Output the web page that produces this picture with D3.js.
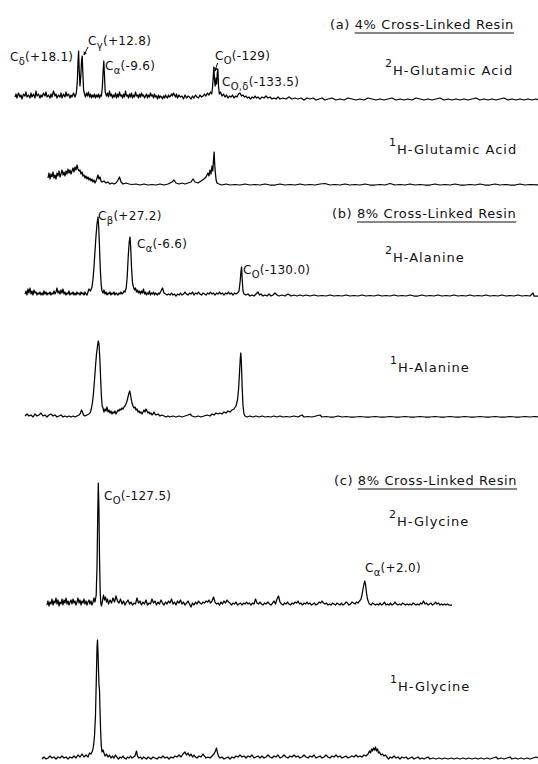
<!DOCTYPE html>
<html>
<head>
<meta charset="utf-8">
<script src="https://cdn.jsdelivr.net/npm/d3@7"></script>
<style>
  body { margin: 0; background: #fff; }
  text { font-family: "DejaVu Sans", sans-serif; fill: #111; }
</style>
</head>
<body>
<svg id="fig" width="538" height="764"></svg>
<script>
// spectra: [position, intensity above baseline]
const glu2H = [[15,3],[16,6],[17,2],[18.5,7],[20,3],[21,5],[22,1],[23.5,6],[25,4],[26,8],[27,3],[28.5,5],[30,2],[31,7],[32,3],[33.5,6],[35,2],[36,9],[37,4],[38.5,6],[40,2],[41,5],[42,3],[43.5,7],[45,4],[46,8],[47,3],[48.5,5],[50,2],[51,6],[52,3],[53.5,9],[55,4],[56,6],[57,2],[58.5,5],[60,3],[61,7],[62,2],[63.5,6],[65,3],[66,8],[67,4],[68.5,6],[70,2],[71,5],[72,3],[73.5,7],[75,3],[76.3,7],
  [77.3,18],[78,38],[78.6,49],[79.2,30],[80,14],[80.8,24],[81.6,40],[82.2,44],[82.8,28],[83.6,10],[84.5,6],[85.5,3],[86.5,7],[87.5,4],[88.5,8],[89.5,3],[90.5,6],[91.5,2],[92.5,5],[93.5,3],[94.5,6],[95.5,2],[96.5,5],[97.5,3],[98.5,6],[99.5,2],[100.5,5],[101.4,4],
  [102.3,12],[103.2,30],[103.8,39],[104.4,26],[105.2,8],[106.5,4],[107.5,7],[108.5,3],[109.5,9],[110.5,4],[111.5,6],[112.5,2],[113.5,5],[114.5,3],[115.5,7],[116.5,2],[117.5,6],[118.5,3],[119.5,8],[120.5,4],[121.5,5],[122.5,2],[123.5,6],[124.5,3],[125.5,9],[126.5,4],[127.5,5],[128.5,2],[129.5,6],[130.5,3],[131.5,7],[132.5,2],[133.5,5],[134.5,3],[135.5,8],[136.5,4],[137.5,5],[138.5,2],[139.5,6],[140.5,3],[141.5,7],[142.5,4],[143.5,5],[144.5,2],[145.5,4],[146.5,6],[147.5,2],[148.5,5],[149.5,3],[150.5,7],[151.5,4],[152.5,5],[153.5,2],[154.5,6],[155.5,3],[156.5,4],[157.5,1],[158.5,5],[159.5,2],[160.5,4],[161.5,3],[162.5,1],[163.5,4],[164.5,2],[165.5,5],[166.5,3],[167.5,2],[168.5,5],[169.5,3],[170.5,4],[171.5,6],[172.5,4],[173.5,7],[174.5,5],[175.5,3],[176.5,6],[177.5,2],[179,5],[180.5,3],[182,4],[183.5,1],[185,5],[186.5,2],[188,4],[189.5,3],[191,1],[192.5,4],[194,2],[195.5,5],[197,3],[198.5,2],[200,5],[201.5,3],[203,4],[204.5,6],[206,4],[207.5,7],[209,5],[210.5,8],[211.7,6],
  [212.5,12],[213.3,24],[213.9,33],[214.5,20],[215.2,14],[216,22],[216.6,16],[217.3,27],[217.9,31],[218.5,14],[219.3,6],[220.5,8],[222,4],[223.5,6],[225,3],[226.5,5],[228,2],[229.5,4],[231,3],[232.5,5],[234,2],[235.5,4],[237,3],[238.5,6],[240,7],[241.5,4],[243,5],[244.5,3],[246,4],[247.5,2],[249,3],[250.5,1],[252,3],[253.5,2],[255,4],[256.5,2],[258,3],[260,1],[262,3],[264,2],[266,4],[268,2],[270,3],[272,1],[274,2],[276,1],[278,3],[280,1],[283,2],[286,1],[289,3],[292,1],[295,2],[298,1],[301,2],[304,0],[307,2],[310,1],[313,2],[316,0],[319,1],[322,2],[325,0],[328,1],[332,2],[336,0],[340,1],[344,0],[348,2],[352,1],[356,0],[360,1],[364,0],[368,2],[372,1],[376,0],[380,1],[384,0],[388,1],[392,2],[396,0],[400,1],[404,0],[408,1],[412,0],[416,2],[420,1],[424,0],[428,1],[432,0],[436,1],[440,2],[444,0],[448,1],[452,0],[456,1],[460,0],[464,1],[468,0],[472,1],[476,2],[480,0],[484,1],[488,0],[492,1],[496,0],[500,1],[504,2],[508,0],[512,1],[516,0],[520,1],[524,0],[528,1],[532,0],[536,1],[538,0]];

const glu1H = [[48,8],[49,13],[50,7],[51,12],[52,9],[53,14],[54,8],[55,11],[56,7],[57,13],[58,10],[59,15],[60,9],[61,12],[62,16],[63,11],[64,14],[65,10],[66,15],[67,12],[68,17],[69,13],[70,16],[71,12],[72,15],[73,18],[74,14],[75,19],[76,16],[77,21],[78,17],[79,15],[80,16],[81,12],[82,14],[83,10],[84,11],[85,8],[86,10],[87,7],[88,9],[89,6],[90,8],[91,5],[92,7],[93,4],[94,6],[95,3],[96,5],[97,8],[98,11],[99,7],[100,9],[101,5],[102,4],[104,5],[106,3],[108,4],[110,2],[112,3],[114,2],[116,3],[118,6],[119.5,9],[121,4],[123,2],[126,3],[129,2],[132,1.5],[136,2],[140,1],[144,2],[148,1],[152,1.5],[156,1],[160,2],[164,1],[168,2],[172,4],[174,6],[176,3],[179,2],[182,3],[185,2],[188,3],[191,4],[193,7],[195,4],[198,3],[201,5],[204,7],[206,9],[208,13],[209,10],[210,16],[211,12],[212,20],[212.8,15],[213.5,26],[214.1,34],[214.7,22],[215.3,14],[216.1,6],[217,3],[219,2],[222,1],[226,2],[230,1],[235,1.5],[240,1],[245,2],[250,1],[255,1.5],[260,1],[265,2],[270,1],[275,1],[280,2],[285,1],[290,1.5],[295,1],[300,2],[305,1],[310,1.5],[315,1],[320,2],[325,2.5],[330,1],[335,1.5],[340,1],[345,2],[350,1],[355,1.5],[360,1],[365,2],[370,1],[375,1],[380,1.5],[385,1],[390,2.5],[395,1],[400,1.5],[405,1],[410,2],[415,1],[420,1.5],[425,1],[430,1],[435,2],[440,1],[445,1.5],[450,1],[455,2],[460,1],[465,1],[470,1.5],[475,1],[480,2],[485,1],[490,1],[495,2],[500,1],[505,1.5],[510,1],[515,1],[520,2],[525,1],[530,1.5],[538,1]];

const ala2H = [[25,3],[26,6],[27,2],[28,8],[29,4],[30,9],[31,3],[32,6],[33,2],[34,7],[35,4],[36,5],[37,2],[38,4],[39,3],[40,5],[41,2],[42,4],[43,2],[44,6],[45,3],[46,5],[47,2],[48,4],[49,3],[50,5],[51,2],[52,4],[53,3],[54,6],[55,3],[56,5],[57,9],[58,4],[59,6],[60,3],[61,7],[62,4],[63,8],[64,3],[65,5],[66,2],[67,4],[68,3],[69,6],[70,2],[71,4],[72,3],[73,5],[74,2],[75,4],[76,2],[77,5],[78,3],[79,4],[80,2],[81,5],[82,3],[83,4],[84,2],[85,5],[86,3],[87,2],[88,5],[89,8],[90.5,6],
  [92,10],[93,18],[94,30],[95,46],[96,61],[97,73],[98,80],[98.7,70],[99.5,50],[100.3,28],[101.2,12],[102,6],[103,4],[104,7],[105,3],[106,5],[107,2],[108,4],[109,3],[110,5],[111,2],[112,4],[113,3],[114,5],[115,2],[116,4],[117,3],[118,2],[119,4],[120,3],[121,5],[122,3],[123,4],[124,6],[125,5],
  [126.2,9],[127.2,20],[128.2,40],[129.2,55],[130,60],[130.7,50],[131.5,30],[132.5,14],[133.5,10],[134.5,7],[135.5,9],[136.5,5],[137.5,7],[138.5,4],[139.5,6],[140.5,3],[141.5,6],[142.5,4],[143.5,8],[144.5,3],[145.5,5],[146.5,2],[147.5,4],[148.5,3],[149.5,6],[150.5,2],[151.5,4],[152.5,3],[153.5,5],[154.5,2],[155.5,4],[156.5,3],[157.5,2],[158.5,4],[159.5,3],[161,6],[162.5,9],[164,4],[165.5,3],[167,2],[168.5,3],[170,2],[171.5,4],[173,2],[174.5,3],[176,1],[177.5,3],[179,2],[180.5,4],[182,2],[183.5,3],[185,5],[186.5,3],[188,2],[189.5,4],[191,3],[192.5,5],[194,2],[195.5,4],[197,3],[198.5,5],[200,3],[201.5,2],[203,4],[204.5,3],[206,2],[207.5,4],[209,3],[210.5,5],[212,3],[213.5,4],[215,2],[216.5,4],[218,3],[219.5,5],[221,3],[222.5,4],[224,2],[225.5,4],[227,3],[228.5,5],[230,3],[231.5,4],[233,2],[234.5,4],[236,3],[237.5,4],
  [239,6],[240.2,16],[241,26],[241.6,30],[242.2,18],[243,6],[244,3],[246,2],[248,3],[250,1],[252,2],[254,1],[256,3],[258,5],[259.5,2],[261,3],[263,1],[265,2],[267,1],[269,3],[271,1],[273,2],[275,4],[277,2],[279,1],[282,2],[285,1],[288,3],[291,1],[294,2],[297,1],[300,2],[303,1],[306,2],[310,1],[314,2],[318,1],[322,1.5],[326,1],[330,2],[334,1],[338,1.5],[342,1],[346,2],[350,1],[354,1.5],[358,1],[362,2],[366,1],[370,1.5],[374,1],[378,2],[382,1],[386,1.5],[390,1],[394,2],[398,1],[402,1.5],[406,1],[410,2],[414,1],[418,1],[422,2],[426,1],[430,1.5],[434,1],[438,2],[442,1],[446,1.5],[450,1],[454,2],[458,1],[462,1.5],[466,1],[470,2],[474,1],[478,1.5],[482,1],[486,2],[490,1],[494,1.5],[498,1],[502,2],[506,1],[510,1.5],[514,1],[518,2],[522,1],[526,1.5],[530,1],[533,4],[534,1],[538,1]];

const ala1H = [[25,2],[27,4],[29,2],[31,3],[33,1],[35,4],[37,2],[39,3],[41,5],[43,2],[45,3],[47,1],[49,3],[51,4],[53,2],[55,3],[57,1],[59,2],[61,3],[63,1],[65,2],[67,1],[69,2],[71,1],[73,2],[75,1],[77,2],[79,3],[80.5,5],[81.5,8],[82.5,6],[83.5,3],[85,2],[87,3],[89,4],[90.5,6],
  [91.5,10],[92.5,16],[93.5,25],[94.5,38],[95.5,52],[96.5,64],[97.5,72],[98.3,77],[99,74],[99.8,60],[100.6,40],[101.4,22],[102.2,12],[103,10],[104,6],[105,9],[106,7],[107,11],[108,6],[109,8],[110,5],[111,7],[112,4],[113,6],[114,5],[115,7],[116,4],[117,6],
  [118,8],[119,7],[120,9],[121,8],[122,10],[123,9],[124,11],[125,12],[126,14],[127,17],[128,21],[129,25],[129.7,27],[130.4,24],[131.2,19],[132,15],[133,12],[134,10],[135,11],[136,8],[137,9],[138,6],[139,7],[140,5],[141,6],[142,4],[143,6],[144,8],[145,6],[146,9],[147,7],[148,5],[149,6],[150,4],[151,5],[152,3],[153,4],[154,6],[155,4],[156,3],[158,4],[160,2],[162,3],[164,2],[166,1],[168,2],[170,1],[173,2],[176,1],[179,2],[182,1],[185,2],[188,3],[190,4],[192,2],[195,1],[198,2],[201,1],[204,2],[207,3],[210,2],[212,4],[214,3],[216,5],[218,4],[220,5],[222,4],[224,6],[226,5],[228,7],[230,6],[232,8],[234,9],[236,12],
  [237.5,18],[238.5,28],[239.5,45],[240.3,60],[240.8,65],[241.4,55],[242.2,30],[243,12],[244,4],[245,2],[247,1],[250,2],[253,1],[256,2],[259,1],[262,2],[265,1],[268,1.5],[271,1],[274,2],[277,1],[280,2],[283,1],[286,1.5],[290,1],[294,2],[298,1],[302,3],[304,1],[308,1.5],[312,1],[316,2],[320,3],[322,1],[326,1.5],[330,1],[334,1],[338,2],[342,1],[346,1.5],[350,1],[355,1],[360,1.5],[365,1],[370,1],[375,1.5],[380,1],[385,1],[390,1.5],[395,1],[400,1],[405,1.5],[410,1],[415,1],[420,1.5],[425,1],[430,1],[435,1.5],[440,1],[445,1],[450,1.5],[455,1],[460,1],[465,1.5],[470,1],[475,1],[480,1.5],[485,1],[490,1],[495,1.5],[500,1],[505,1],[510,1.5],[515,1],[520,1],[525,1.5],[530,1],[535,1.5],[538,1]];

const gly2H = [[47,2],[48,6],[49,1],[50,5],[51,3],[52,8],[53,2],[54,6],[55,4],[56,9],[57,3],[58,7],[59,1],[60,5],[61,3],[62,8],[63,2],[64,7],[65,4],[66,9],[67,3],[68,6],[69,2],[70,5],[71,7],[72,3],[73,8],[74,4],[75,6],[76,2],[77,5],[78,9],[79,4],[80,7],[81,2],[82,6],[83,4],[84,8],[85,3],[86,6],[87,2],[88,5],[89,7],[90,3],[91,6],[92,2],[93,5],[94,9],[95,5],
  [96.2,12],[97,40],[97.7,90],[98.3,124],[98.9,100],[99.5,50],[100.2,15],[100.8,4],[101.5,1],[102.5,6],[103.5,12],[104.5,7],[105.5,10],[106.5,5],[107.5,8],[108.5,3],[110,7],[111.5,4],[113,9],[114.5,5],[116,11],[117.5,6],[119,4],[120.5,8],[122,3],[123.5,6],[125,2],[126.5,5],[128,7],[129.5,3],[131,5],[132.5,2],[134,4],[135.5,3],[137,9],[138.5,4],[140,6],[141.5,2],[143,5],[144.5,3],[146,7],[147.5,2],[149,4],[150.5,3],[152,8],[153.5,4],[155,6],[156.5,2],[158,5],[159.5,3],[161,7],[162.5,4],[164,2],[165.5,5],[167,3],[168.5,6],[170,4],[171.5,8],[173,3],[174.5,5],[176,2],[177.5,6],[179,4],[180.5,7],[182,3],[183.5,5],[185,2],[186.5,4],[188,6],[189.5,3],[191,0],[192.5,4],[194,2],[195.5,5],[197,3],[198.5,6],[200,4],[201.5,3],[203,5],[204.5,4],[206,6],[207.5,5],[209,7],[210.5,4],[212,6],[213.5,10],[215,5],[216.5,3],[218,4],[219.5,2],[221,5],[222.5,3],[224,6],[225.5,4],[227,7],[228.5,5],[230,4],[231.5,2],[233,4],[234.5,3],[236,5],[237.5,2],[239,3],[240.5,4],[242,2],[243.5,4],[245,3],[246.5,5],[248,3],[249.5,4],[251,2],[252.5,4],[254,3],[255.5,8],[257,4],[258.5,3],[260,5],[261.5,3],[263,2],[264.5,4],[266,3],[268,5],[269.5,3],[271,2],[272.5,4],[274,6],[275.5,3],[277,8],[278.5,11],[280,5],[281.5,3],[283,2],[284.5,4],[286,3],[287.5,5],[289,3],[290.5,2],[292,4],[293.5,3],[295,5],[296.5,4],[298,6],[299.5,3],[301,4],[302.5,2],[304,4],[305.5,3],[307,5],[308.5,3],[310,4],[311.5,2],[313,3],[314.5,4],[316,2],[317.5,3],[319,5],[320.5,4],[322,6],[323.5,4],[325,3],[326.5,4],[328,2],[329.5,3],[331,2],[332.5,4],[334,3],[335.5,2],[337,4],[338.5,3],[340,2],[341.5,4],[343,2],[344.5,3],[346,5],[347.5,4],[349,2],[350.5,3],[352,5],[353.5,4],[355,3],[356.5,5],[358,4],[359.5,6],
  [361,8],[362,12],[363,18],[364,23],[364.8,26],[365.6,22],[366.5,14],[367.5,8],[368.5,5],[369.5,3],[371,2],[372.5,4],[374,3],[375.5,2],[377,3],[378.5,2],[380,4],[381.5,2],[383,3],[384.5,5],[386,2],[387.5,3],[389,2],[390.5,4],[392,2],[393.5,3],[395,5],[396.5,3],[398,2],[399.5,3],[401,2],[402.5,4],[404,3],[405.5,2],[407,3],[408.5,2],[410,3],[411.5,2],[413,4],[414.5,3],[416,2],[417.5,3],[419,2],[420.5,4],[422,3],[423.5,6],[425,3],[426.5,4],[428,2],[429.5,3],[431,4],[432.5,2],[434,3],[435.5,5],[437,3],[438.5,4],[440,2],[441.5,3],[443,2],[444.5,3],[446,2],[447.5,3],[449,2],[450.5,2],[452,2]];

const gly1H = [[42,1],[44,3],[46,1],[48,2],[50,4],[52,2],[54,3],[56,1],[58,3],[60,2],[62,4],[64,2],[66,3],[68,1],[70,3],[72,2],[74,4],[76,2],[78,5],[80,3],[82,6],[84,3],[86,5],[88,3],[89.5,7],[91,6],[92.5,9],
  [93.5,14],[94.5,24],[95.5,45],[96.3,80],[97,112],[97.5,120],[98,108],[98.5,90],[99,75],[99.5,70],[100,50],[100.6,30],[101.3,14],[102,8],[103,10],[104,7],[105,4],[106.5,6],[108,3],[109.5,5],[111,2],[112.5,4],[114,2],[115.5,5],[117,3],[118.5,1],[120,3],[121.5,2],[123,4],[124.5,2],[126,1],[127.5,3],[129,2],[130.5,4],[132,2],[133.5,3],[135,4],[136.5,9],[137.5,4],[139,2],[140.5,3],[142,1],[143.5,3],[145,2],[146.5,1],[148,3],[149.5,2],[151,1],[153,3],[155,2],[157,1],[159,3],[161,2],[163,4],[165,2],[167,3],[169,1],[171,3],[173,2],[175,4],[177,3],[179,5],[181,3],[183,6],[185,8],[186.5,5],[188,7],[189.5,4],[191,6],[192.5,3],[194,5],[195.5,3],[197,2],[199,4],[201,3],[203,6],[204.5,4],[206,2],[208,3],[210,2],[212,4],[214,6],[215.5,9],[216.5,12],[217.5,7],[218.5,4],[220,2],[222,3],[224,1],[226,2],[228,3],[230,1],[232,3],[234,2],[236,4],[238,3],[240,5],[242,3],[244,4],[246,2],[248,4],[250,3],[252,5],[254,2],[256,3],[258,4],[260,2],[262,4],[264,2],[266,3],[268,5],[270,3],[272,2],[274,4],[276,3],[278,5],[280,2],[282,3],[284,5],[286,3],[288,2],[290,4],[292,3],[294,5],[296,3],[298,4],[300,2],[302,3],[304,5],[306,3],[308,2],[310,4],[312,3],[314,5],[316,2],[318,3],[320,4],[322,2],[324,3],[326,5],[328,3],[330,2],[332,4],[334,3],[336,5],[338,3],[340,4],[342,2],[344,3],[346,4],[348,2],[350,3],[352,4],[354,3],[356,5],[358,3],[360,4],[362,3],[364,5],[366,4],[368,6],
  [369.5,9],[370.5,7],[371.5,11],[372.5,9],[373.5,12],[374.5,10],[375.5,13],[376.5,9],[377.5,11],[378.5,7],[379.5,8],[381,5],[382.5,6],[384,4],[385.5,5],[387,3],[388.5,1],[390,3],[392,2],[394,4],[396,2],[398,3],[400,1],[402,3],[404,2],[406,3],[408,1],[410,2],[412,3],[414,1],[416,2],[418,3],[420,1],[422,2],[424,1],[426,2],[428,3],[430,1],[433,2],[436,1],[439,2],[442,1],[445,2],[448,1],[451,2],[454,1],[457,2],[460,1],[463,2],[466,1],[469,2],[472,1],[475,2],[478,1],[481,2],[484,1],[487,2],[490,1],[493,2],[496,3],[498,1],[501,2],[504,1],[507,2],[510,3],[512,1],[515,2],[518,1],[521,2],[524,1],[527,2],[530,1],[533,2],[536,3],[538,2]];

// text
const isotopes = ["2", "1", "2", "1", "2", "1"];
const compounds = ["Glutamic Acid", "Glutamic Acid", "Alanine", "Alanine", "Glycine", "Glycine"];
const panelTags = ["(a)", "(b)", "(c)"];
const resins = ["4% Cross-Linked Resin", "8% Cross-Linked Resin", "8% Cross-Linked Resin"];
// peak assignments: [atom subscript, shift]
const gluPeaks = [["\u03b4", "(+18.1)"], ["\u03b3", "(+12.8)"], ["\u03b1", "(-9.6)"], ["O", "(-129)"], ["O,\u03b4", "(-133.5)"]];
const alaPeaks = [["\u03b2", "(+27.2)"], ["\u03b1", "(-6.6)"], ["O", "(-130.0)"]];
const glyPeaks = [["O", "(-127.5)"], ["\u03b1", "(+2.0)"]];

const svg = d3.select("#fig");
const x = d3.scaleLinear().domain([0, 538]).range([0, 538]);

// baseline of each trace in the page
const traces = [
  { data: glu2H, base: 100 },
  { data: glu1H, base: 186 },
  { data: ala2H, base: 297 },
  { data: ala1H, base: 418 },
  { data: gly2H, base: 607 },
  { data: gly1H, base: 760 }
];

traces.forEach(t => {
  const y = d3.scaleLinear().domain([0, 100]).range([t.base, t.base - 100]);
  const line = d3.line().x(d => x(d[0])).y(d => y(d[1]));
  svg.append("path")
    .datum(t.data)
    .attr("d", line)
    .attr("fill", "none")
    .attr("stroke", "#000")
    .attr("stroke-width", 1.25)
    .attr("stroke-linejoin", "round");
});

// compound names with isotope superscript
const namePos = [[385, 75], [389, 154], [385, 262], [390, 372], [389, 526], [390, 691]];
compounds.forEach((c, i) => {
  const t = svg.append("text")
    .attr("x", namePos[i][0]).attr("y", namePos[i][1])
    .style("font-size", "13px").style("letter-spacing", "1px");
  t.append("tspan").text(isotopes[i]).attr("dy", -8).style("font-size", "11px");
  t.append("tspan").text("H-" + c).attr("dy", 8);
});

// panel headers, underlined resin name
const tagPos = [[330, 29], [332, 218], [334, 485]];
panelTags.forEach((tag, i) => {
  const t = svg.append("text")
    .attr("x", tagPos[i][0]).attr("y", tagPos[i][1])
    .style("font-size", "13px").style("letter-spacing", "0.6px");
  t.append("tspan").text(tag + " ");
  const u = t.append("tspan").text(resins[i]);
  const start = tagPos[i][0] + t.node().getSubStringLength(0, tag.length + 1);
  const len = u.node().getComputedTextLength();
  svg.append("line")
    .attr("x1", start).attr("x2", start + len)
    .attr("y1", tagPos[i][1] + 4).attr("y2", tagPos[i][1] + 4)
    .attr("stroke", "#111").attr("stroke-width", 1.1);
});

// peak labels: C, subscript atom, shift in ppm
function peakLabel(p, px, py) {
  const t = svg.append("text")
    .attr("x", px).attr("y", py)
    .style("font-size", "12px").style("letter-spacing", "0.3px");
  t.append("tspan").text("C");
  t.append("tspan").text(p[0]).attr("dy", 4).style("font-size", "10px");
  t.append("tspan").text(p[1]).attr("dy", -4);
}
const gluPos = [[10, 61], [88, 45], [105, 70], [215, 60], [222, 86]];
gluPeaks.forEach((p, i) => peakLabel(p, gluPos[i][0], gluPos[i][1]));
const alaPos = [[98, 220], [137, 248], [243, 274]];
alaPeaks.forEach((p, i) => peakLabel(p, alaPos[i][0], alaPos[i][1]));
const glyPos = [[104, 500], [365, 572]];
glyPeaks.forEach((p, i) => peakLabel(p, glyPos[i][0], glyPos[i][1]));

// short leader arrows to crowded peaks
svg.append("defs").append("marker")
  .attr("id", "ah").attr("viewBox", "0 0 6 6").attr("refX", 5).attr("refY", 3)
  .attr("markerWidth", 4).attr("markerHeight", 4).attr("orient", "auto")
  .append("path").attr("d", "M0,0L6,3L0,6z").attr("fill", "#111");
[[[88, 47], [84, 55]], [[217.5, 63], [215, 71]]].forEach(s => {
  svg.append("line")
    .attr("x1", s[0][0]).attr("y1", s[0][1]).attr("x2", s[1][0]).attr("y2", s[1][1])
    .attr("stroke", "#111").attr("stroke-width", 1)
    .attr("marker-end", "url(#ah)");
});
</script>
</body>
</html>
